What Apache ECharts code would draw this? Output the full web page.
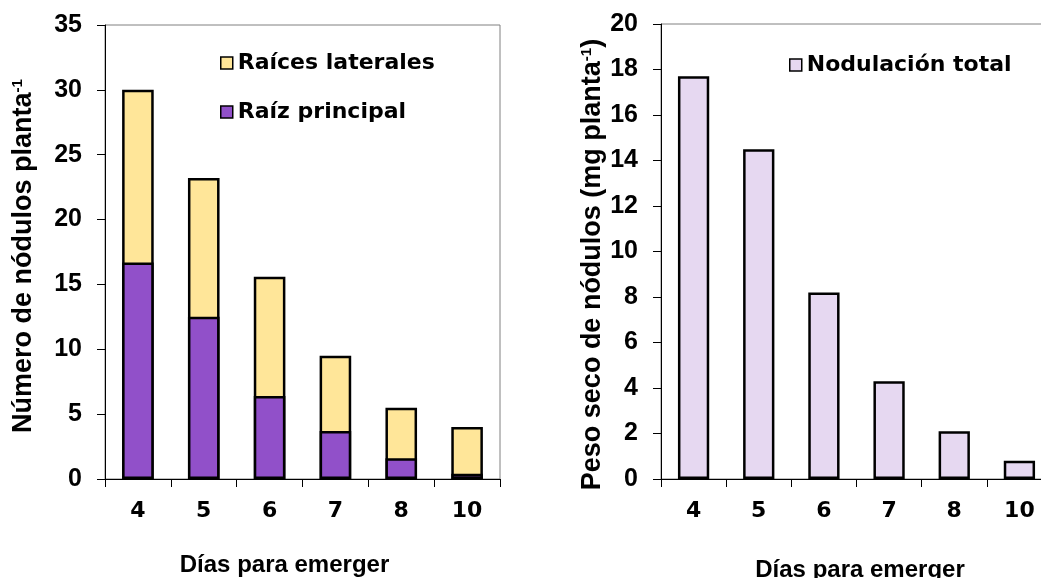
<!DOCTYPE html>
<html><head><meta charset="utf-8">
<script src="https://cdn.jsdelivr.net/npm/echarts@6/dist/echarts.min.js"></script>
<style>html,body{margin:0;padding:0;background:#fff}#c{width:1041px;height:578px}</style>
</head><body><div id="c"></div>
<script>
// ---- data ----
const categories = ['4', '5', '6', '7', '8', '10'];
const raizPrincipal = [16.7, 12.5, 6.4, 3.7, 1.6, 0.4];
const raicesLaterales = [13.3, 10.7, 9.2, 5.8, 3.9, 3.6];
const nodulacionTotal = [17.7, 14.5, 8.2, 4.3, 2.1, 0.8];
const leftAxisRange = [0, 35, 5];   // min, max, interval
const rightAxisRange = [0, 20, 2];
const xTitle = 'Días para emerger';
const leftYTitle = 'Número de nódulos planta{sup|-1}';
const rightYTitle = 'Peso seco de nódulos (mg planta{sup|-1})';

// stacked total (yellow bar drawn full height, purple overlaid on it)
const totalNodulos = raizPrincipal.map((v, i) => +(v + raicesLaterales[i]).toFixed(2));

// ---- styles ----
const FONT = 'Liberation Sans';
const PURPLE = '#9150c9', YELLOW = '#ffe699', LAVENDER = '#e6d8f1';

const chart = echarts.init(document.getElementById('c'), null, {renderer: 'canvas'});

function xAxisCfg(gi, gap, pad) {
  return {
    type: 'category', gridIndex: gi, data: categories,
    axisLine: {show: true, lineStyle: {color: '#000', width: 1}},
    axisTick: {show: true, length: 8, lineStyle: {color: '#000', width: 1}},
    axisLabel: {fontFamily: 'DejaVu Sans', fontSize: 22, fontWeight: 'bold', color: '#000', margin: 21},
    name: xTitle, nameLocation: 'middle', nameGap: gap,
    nameTextStyle: {fontFamily: FONT, fontSize: 24, fontWeight: 'bold', color: '#000', padding: pad}
  };
}
function yAxisCfg(gi, rng, name, gap, fs, pad) {
  return {
    type: 'value', gridIndex: gi, min: rng[0], max: rng[1], interval: rng[2],
    splitLine: {show: false},
    axisLine: {show: true, lineStyle: {color: '#000', width: 1}},
    axisTick: {show: true, length: 8, lineStyle: {color: '#000', width: 1}},
    axisLabel: {fontFamily: FONT, fontSize: 25, fontWeight: 'bold', color: '#000', margin: 23},
    name: name, nameLocation: 'middle', nameRotate: 90, nameGap: gap,
    nameTextStyle: {
      fontFamily: FONT, fontSize: fs, fontWeight: 'bold', color: '#000', padding: pad,
      rich: {sup: {fontFamily: FONT, fontSize: 15, fontWeight: 'bold', color: '#000', verticalAlign: 'top', padding: [0, 0, 11, 0]}}
    }
  };
}

const option = {
  animation: false,
  backgroundColor: '#fff',
  grid: [
    {left: 105, top: 25, width: 395, height: 454, show: true, borderColor: '#808080', borderWidth: 1, outerBoundsMode: 'none', containLabel: false},
    {left: 661, top: 24, width: 391, height: 455, show: true, borderColor: '#808080', borderWidth: 1, outerBoundsMode: 'none', containLabel: false}
  ],
  legend: [
    {
      data: ['Raíces laterales', 'Raíz principal'], orient: 'vertical', left: 215, top: 47,
      itemWidth: 12, itemHeight: 12, itemGap: 27, icon: 'rect',
      itemStyle: {borderColor: '#000', borderWidth: 1.5},
      textStyle: {fontFamily: 'DejaVu Sans', fontSize: 22, fontWeight: 'bold', color: '#000'}
    },
    {
      data: ['Nodulación total'], orient: 'vertical', left: 784, top: 49,
      itemWidth: 12, itemHeight: 12, icon: 'rect',
      itemStyle: {borderColor: '#000', borderWidth: 1.5},
      textStyle: {fontFamily: 'DejaVu Sans', fontSize: 22, fontWeight: 'bold', color: '#000'}
    }
  ],
  xAxis: [xAxisCfg(0, 74, [0, 36, 0, 0]), xAxisCfg(1, 79, [0, 0, 0, 7])],
  yAxis: [
    yAxisCfg(0, leftAxisRange, leftYTitle, 68, 27, [0, 8, 0, 0]),
    yAxisCfg(1, rightAxisRange, rightYTitle, 48, 27, [0, 26, 0, 0])
  ],
  series: [
    {
      name: 'Raíces laterales', type: 'bar', xAxisIndex: 0, yAxisIndex: 0,
      data: totalNodulos, barWidth: '48%', barGap: '-100%',
      itemStyle: {color: YELLOW, borderColor: '#000', borderWidth: 2.5}
    },
    {
      name: 'Raíz principal', type: 'bar', xAxisIndex: 0, yAxisIndex: 0,
      data: raizPrincipal, barWidth: '48%', barGap: '-100%',
      itemStyle: {color: PURPLE, borderColor: '#000', borderWidth: 2.5}
    },
    {
      name: 'Nodulación total', type: 'bar', xAxisIndex: 1, yAxisIndex: 1,
      data: nodulacionTotal, barWidth: '48%',
      itemStyle: {color: LAVENDER, borderColor: '#000', borderWidth: 2.5}
    }
  ]
};
chart.setOption(option);
</script>
</body></html>
